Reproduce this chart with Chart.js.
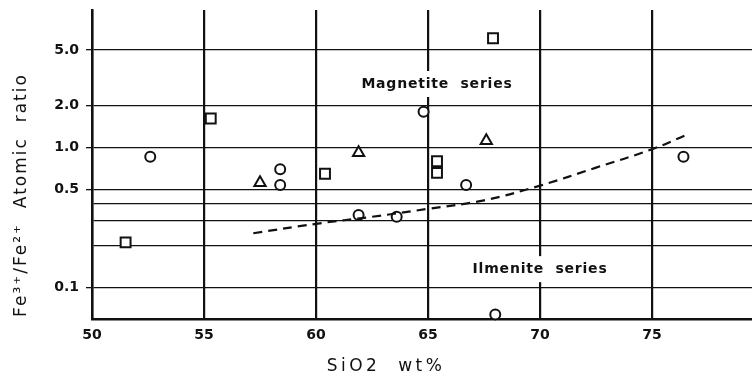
<!DOCTYPE html>
<html><head><meta charset="utf-8">
<script src="https://cdn.jsdelivr.net/npm/chart.js@4.4.1/dist/chart.umd.min.js"></script>
<style>html,body{margin:0;padding:0;background:#fff}</style>
</head><body>
<canvas id="c" width="752" height="386"></canvas>
<script>
// ---- data ----
const circlesSiO2   = [52.6, 58.4, 58.4, 61.9, 63.6, 64.8, 66.7, 68.0, 76.4];
const circlesRatio  = [0.86, 0.70, 0.54, 0.33, 0.32, 1.81, 0.54, 0.064, 0.86];
const squaresSiO2   = [51.5, 55.3, 60.4, 65.4, 65.4, 67.9];
const squaresRatio  = [0.21, 1.62, 0.65, 0.80, 0.66, 6.08];
const trianglesSiO2 = [57.5, 61.9, 67.6];
const trianglesRatio= [0.56, 0.92, 1.12];
const boundarySiO2  = [57.2, 60, 62.5, 65, 67.5, 70, 72.5, 75, 76.5];
const boundaryRatio = [0.244, 0.285, 0.32, 0.365, 0.42, 0.535, 0.72, 0.975, 1.23];
const xTicks = [50, 55, 60, 65, 70, 75];
const xTickLabels = ['50', '55', '60', '65', '70', '75'];
const yTicks = [0.1, 0.2, 0.3, 0.4, 0.5, 1, 2, 5];
const yTickLabels = ['0.1', '', '', '', '0.5', '1.0', '2.0', '5.0'];
const annotations = [
  {text: 'Magnetite  series', x: 65.4, y: 2.86},
  {text: 'Ilmenite  series',  x: 70.0, y: 0.135}
];
const xTitle = 'SiO2  wt%';
const yTitle = 'Fe\u00B3\u207A/Fe\u00B2\u207A  Atomic  ratio';

const pts = (xs, ys) => xs.map((x, i) => ({x, y: ys[i]}));
const INK = '#111';

const annotPlugin = {
  id: 'annot',
  afterDatasetsDraw(chart) {
    const ctx = chart.ctx, xs = chart.scales.x, ys = chart.scales.y;
    ctx.save();
    ctx.font = 'bold 14px "DejaVu Sans"';
    ctx.letterSpacing = '0.8px';
    ctx.textAlign = 'center';
    ctx.textBaseline = 'middle';
    annotations.forEach(a => {
      const px = xs.getPixelForValue(a.x), py = ys.getPixelForValue(a.y);
      const w = ctx.measureText(a.text).width;
      ctx.fillStyle = '#fff';
      ctx.fillRect(px - w / 2 - 4, py - 13, w + 8, 26);
      ctx.fillStyle = INK;
      ctx.fillText(a.text, px, py);
    });
    // axis titles
    ctx.font = '17px "DejaVu Sans"';
    ctx.letterSpacing = '3.5px';
    ctx.fillText(xTitle, 386, 367);
    ctx.translate(22, 195);
    ctx.rotate(-Math.PI / 2);
    ctx.font = '17px "DejaVu Sans"';
    ctx.letterSpacing = '2px';
    ctx.fillText(yTitle, 0, 0);
    ctx.restore();
  }
};

new Chart(document.getElementById('c'), {
  type: 'scatter',
  data: {
    datasets: [
      {
        label: 'boundary', data: pts(boundarySiO2, boundaryRatio), showLine: true,
        borderColor: INK, borderWidth: 2.2, borderDash: [9, 6], pointRadius: 0,
        tension: 0.4, fill: false, clip: false
      },
      {
        label: 'circles', data: pts(circlesSiO2, circlesRatio), pointStyle: 'circle',
        pointRadius: 5, borderColor: INK, backgroundColor: '#fff', borderWidth: 2, clip: false
      },
      {
        label: 'squares', data: pts(squaresSiO2, squaresRatio), pointStyle: 'rect',
        pointRadius: 7, borderColor: INK, backgroundColor: '#fff', borderWidth: 2, clip: false
      },
      {
        label: 'triangles', data: pts(trianglesSiO2, trianglesRatio), pointStyle: 'triangle',
        pointRadius: 6.5, borderColor: INK, backgroundColor: '#fff', borderWidth: 2, clip: false
      }
    ]
  },
  options: {
    responsive: false,
    animation: false,
    devicePixelRatio: 1,
    layout: {autoPadding: false, padding: {top: 10, right: 0, left: 0, bottom: 0}},
    plugins: {legend: {display: false}, tooltip: {enabled: false}},
    scales: {
      x: {
        type: 'linear', min: 50, max: 79.46,
        afterBuildTicks: s => { s.ticks = xTicks.map(v => ({value: v})); },
        afterFit: s => { s.height = 67; s.paddingLeft = 0; s.paddingRight = 0; },
        ticks: {
          color: INK, font: {family: 'DejaVu Sans', size: 14, weight: 'bold'}, padding: 8,
          maxRotation: 0, autoSkip: false,
          callback: (v, i) => xTickLabels[i]
        },
        grid: {color: INK, lineWidth: 2.2, drawTicks: false},
        border: {color: INK, width: 2.5}
      },
      y: {
        type: 'logarithmic', min: 0.0593, max: 9.69,
        afterBuildTicks: s => { s.ticks = yTicks.map(v => ({value: v})); },
        afterFit: s => { s.width = 92; s.paddingTop = 0; s.paddingBottom = 0; },
        ticks: {
          color: INK, font: {family: 'DejaVu Sans', size: 14, weight: 'bold'}, padding: 7, autoSkip: false,
          callback: (v, i) => yTickLabels[i]
        },
        grid: {
          color: INK, lineWidth: 1.3, drawTicks: true, tickLength: 6,
          tickColor: c => (yTickLabels[c.index] ? INK : 'rgba(0,0,0,0)')
        },
        border: {color: INK, width: 2.5}
      }
    }
  },
  plugins: [annotPlugin]
});
</script>
</body></html>
